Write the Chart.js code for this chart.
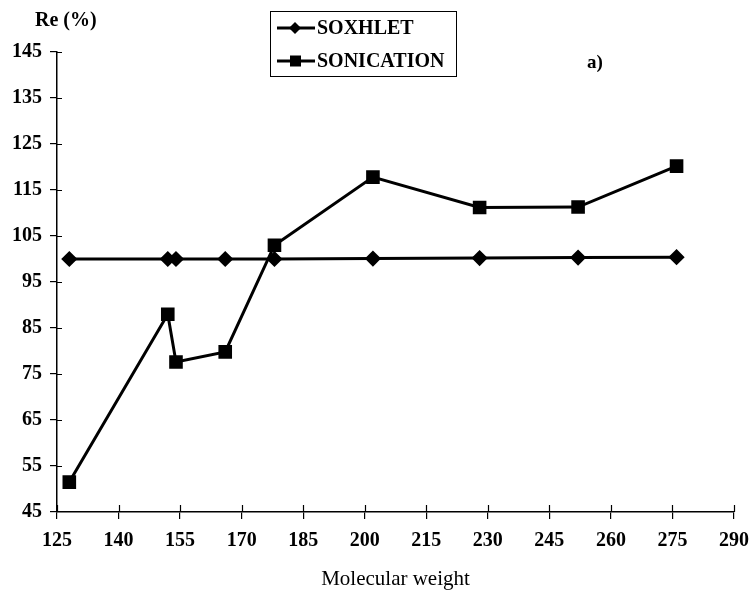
<!DOCTYPE html>
<html>
<head>
<meta charset="utf-8">
<script src="https://cdn.jsdelivr.net/npm/chart.js@4.4.1/dist/chart.umd.min.js"></script>
<style>
  html, body { margin: 0; padding: 0; background: #fff; }
  #wrap { width: 753px; height: 596px; }
</style>
</head>
<body>
<div id="wrap"><canvas id="chart" width="753" height="596"></canvas></div>
<script>
// molecular weights of the compounds
const molWeights = [128, 152, 154, 166, 178, 202, 228, 252, 276];
const soxhletRe = [100, 100, 100, 100, 100, 100.1, 100.2, 100.3, 100.4];
const sonicationRe = [51.5, 88, 77.6, 79.8, 103, 117.8, 111.2, 111.3, 120.2];

const xTicks = [125, 140, 155, 170, 185, 200, 215, 230, 245, 260, 275, 290];
const yTicks = [45, 55, 65, 75, 85, 95, 105, 115, 125, 135, 145];

const serif = "'Liberation Serif', 'Times New Roman', serif";

const toPoints = (xs, ys) => xs.map((x, i) => ({ x: x, y: ys[i] }));

// inner half of the crossing tick marks
const innerTicks = {
    id: 'innerTicks',
    afterDraw(chart) {
        const ctx = chart.ctx;
        const xs = chart.scales.x, ys = chart.scales.y;
        const area = chart.chartArea;
        ctx.save();
        ctx.strokeStyle = '#000';
        ctx.lineWidth = 1.2;
        ctx.beginPath();
        xTicks.forEach(v => {
            const px = Math.round(xs.getPixelForValue(v)) + 0.5;
            ctx.moveTo(px, area.bottom);
            ctx.lineTo(px, area.bottom - 7);
        });
        yTicks.forEach(v => {
            if (v === 45) return;
            const py = Math.round(ys.getPixelForValue(v)) + 0.5;
            ctx.moveTo(area.left, py);
            ctx.lineTo(area.left + 5, py);
        });
        ctx.stroke();
        ctx.restore();
    }
};

// draws the boxed legend and the loose labels
const extraText = {
    id: 'extraText',
    afterDraw(chart) {
        const ctx = chart.ctx;
        ctx.save();
        ctx.fillStyle = '#000';
        ctx.strokeStyle = '#000';

        ctx.font = 'bold 20px ' + serif;
        ctx.textBaseline = 'middle';
        ctx.fillText('Re (%)', 35, 21);
        ctx.font = 'bold 19px ' + serif;
        ctx.fillText('a)', 587, 63);

        // legend box
        ctx.lineWidth = 1;
        ctx.strokeRect(270.5, 11.5, 186, 65);
        const rows = [28, 61];
        chart.data.datasets.forEach((ds, i) => {
            const y = rows[i];
            ctx.lineWidth = 3;
            ctx.beginPath();
            ctx.moveTo(277, y);
            ctx.lineTo(315, y);
            ctx.stroke();
            if (ds.pointStyle === 'rect') {
                ctx.fillRect(290, y - 5.5, 11, 11);
            } else {
                ctx.beginPath();
                ctx.moveTo(295, y - 6);
                ctx.lineTo(301, y);
                ctx.lineTo(295, y + 6);
                ctx.lineTo(289, y);
                ctx.closePath();
                ctx.fill();
            }
            ctx.font = 'bold 20px ' + serif;
            ctx.fillText(ds.label, 317, y + 1);
        });
        ctx.restore();
    }
};

new Chart(document.getElementById('chart').getContext('2d'), {
    type: 'line',
    data: {
        datasets: [
            {
                label: 'SOXHLET',
                data: toPoints(molWeights, soxhletRe),
                borderColor: '#000',
                backgroundColor: '#000',
                borderWidth: 3,
                pointStyle: 'rectRot',
                pointRadius: 6,
                tension: 0
            },
            {
                label: 'SONICATION',
                data: toPoints(molWeights, sonicationRe),
                borderColor: '#000',
                backgroundColor: '#000',
                borderWidth: 3,
                pointStyle: 'rect',
                pointRadius: 7.5,
                tension: 0
            }
        ]
    },
    options: {
        responsive: false,
        animation: false,
        layout: { padding: { top: 52, right: 19, left: 0, bottom: 0 } },
        plugins: {
            legend: { display: false },
            tooltip: { enabled: false }
        },
        scales: {
            x: {
                type: 'linear',
                min: 125,
                max: 290,
                afterBuildTicks: (axis) => { axis.ticks = xTicks.map(v => ({ value: v })); },
                afterFit: (axis) => {
                    axis.height = 84;
                    axis.paddingRight = 0;
                    axis.paddingLeft = 0;
                },
                border: { display: true, color: '#000', width: 1.5 },
                grid: { drawOnChartArea: false, drawTicks: true, tickLength: 7, color: '#000', lineWidth: 1.2 },
                ticks: {
                    color: '#000',
                    padding: 10,
                    maxRotation: 0,
                    font: { family: serif, size: 20, weight: 'bold' }
                },
                title: {
                    display: true,
                    text: 'Molecular weight',
                    color: '#000',
                    padding: { top: 4, bottom: 4 },
                    font: { family: serif, size: 21 }
                }
            },
            y: {
                min: 45,
                max: 145,
                afterBuildTicks: (axis) => { axis.ticks = yTicks.map(v => ({ value: v })); },
                afterFit: (axis) => { axis.width = 57; },
                border: { display: true, color: '#000', width: 1.5 },
                grid: { drawOnChartArea: false, drawTicks: true, tickLength: 7, color: '#000', lineWidth: 1.2 },
                ticks: {
                    color: '#000',
                    padding: 8,
                    font: { family: serif, size: 20, weight: 'bold' }
                }
            }
        }
    },
    plugins: [innerTicks, extraText]
});
</script>
</body>
</html>
